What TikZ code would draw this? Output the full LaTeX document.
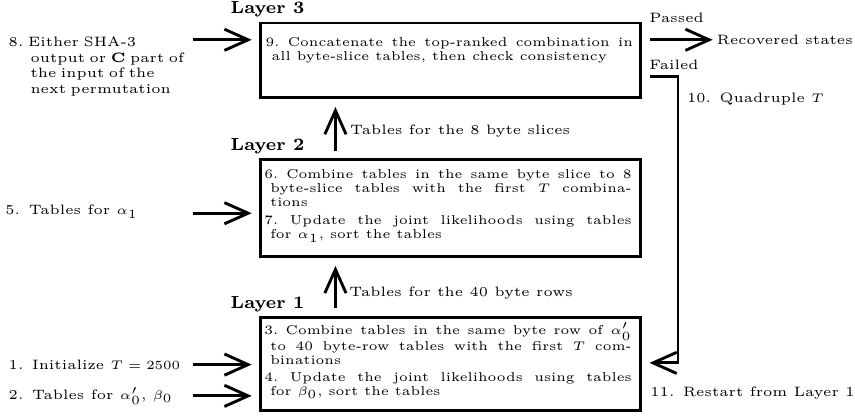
\documentclass[tikz,border=0pt]{standalone}
\usepackage{amssymb}
\usepackage{amsmath}
\usetikzlibrary{positioning,arrows.meta}

\newcommand{\smalltxt}{\fontsize{5.45}{6.2}\selectfont\lineskiplimit=-4pt}
\newcommand{\boxtxt}{\fontsize{5.15}{5.6}\selectfont\lineskiplimit=-4pt}
\newcommand{\boxtxtloose}{\fontsize{5.15}{5.6}\selectfont\lineskiplimit=0pt\lineskip=0.3pt}
\tikzset{
	layerbox/.style={draw, line width=1.15pt, minimum width=5.34cm, inner sep=0pt},
	boxtext/.style={text width=5.17cm, align=justify, inner sep=0pt, font=\boxtxt},
	sidetext/.style={inner sep=0pt, font=\smalltxt, anchor=west},
	layerlabel/.style={inner sep=0pt, font=\scriptsize\bfseries},
	flow/.style={line width=1.15pt, shorten >=3.1pt, -{Straight Barb[length=9.5pt,width=8.5pt,line width=1.15pt]}},
}
\newcommand{\stepitem}[3][2.4pt]{\par\noindent\hangindent=#1\hangafter=1 #2.~#3\par}

\begin{document}
\begin{tikzpicture}
	\useasboundingbox (0,0) rectangle (12.03,5.85);

	%layer boxes
	\node[layerbox, minimum height=1.054cm] (l3) at (6.34,5.00) {};
	\node[layerbox, minimum height=1.364cm] (l2) at (6.34,2.92) {};
	\node[layerbox, minimum height=1.31cm] (l1) at (6.34,0.73) {};

	%layer titles
	\node[layerlabel, above=1.5pt of l3.north west, xshift=0.116cm] (t3) {Layer 3};
	\node[layerlabel, above=1.5pt of l2.north west, xshift=0.116cm] (t2) {Layer 2};
	\node[layerlabel, above=1.5pt of l1.north west, xshift=0.116cm] (t1) {Layer 1};

	%box texts
	\node[boxtext, below right=0.15cm and 0.08cm of l3.north west] (s9)
		{\stepitem{9}{Concatenate the top-ranked combination in\linebreak all byte-slice tables, then check consistency}};
	\node[boxtext, below right=0.078cm and 0.062cm of l2.north west] (s67)
		{\stepitem{6}{Combine tables in the same byte slice to 8\linebreak byte-slice tables with the first $T$ combina-\linebreak tions}\vspace{1.6pt}
		 \stepitem{7}{Update the joint likelihoods using tables\linebreak for $\alpha_1$, sort the tables}};
	\node[boxtext, font=\boxtxtloose, below right=0.062cm and 0.062cm of l1.north west] (s34)
		{\stepitem{3}{Combine tables in the same byte row of $\alpha'_0$\linebreak to 40 byte-row tables with the first $T$ com-\linebreak binations}\vspace{1.2pt}
		 \stepitem{4}{Update the joint likelihoods using tables\linebreak for $\beta_0$, sort the tables}};

	%inputs on the left
	\node[sidetext, anchor=north west, text width=2.64cm] (in8) at (0.116,5.42)
		{\stepitem[1.6em]{8}{Either SHA-3\hfil\break output or \textbf{C} part of\hfil\break the input of the\hfil\break next permutation}};
	\node[sidetext] (in5) at (0.07,2.87) {5. Tables for $\alpha_1$};
	\node[sidetext] (in1) at (0.116,0.72) {1. Initialize $T=2500$};
	\node[sidetext] (in2) at (0.116,0.28) {2. Tables for $\alpha'_0$, $\beta_0$};

	\coordinate (a8) at (2.71,5.29);
	\coordinate (a5) at (2.71,2.85);
	\coordinate (a1) at (2.71,0.72);
	\coordinate (a2) at (2.71,0.28);
	\draw[flow] (a8) -- (a8 -| l3.west);
	\draw[flow] (a5) -- (a5 -| l2.west);
	\draw[flow] (a1) -- (a1 -| l1.west);
	\draw[flow] (a2) -- (a2 -| l1.west);

	%between layers
	\coordinate (up2) at ([xshift=1.07cm]l2.north west);
	\coordinate (up1) at ([xshift=1.07cm]l1.north west);
	\draw[flow, shorten <=3.1pt] (up2) -- (up2 |- l3.south);
	\draw[flow, shorten <=3.1pt] (up1) -- (up1 |- l2.south);
	\node[sidetext] (slices) at (4.92,4.00) {Tables for the 8 byte slices};
	\node[sidetext] (rows) at (4.91,1.73) {Tables for the 40 byte rows};

	%outcome of the check
	\node[sidetext] (rec) at (10.08,5.29) {Recovered states};
	\draw[flow, shorten <=3.1pt, shorten >=1.5pt] (l3.east |- rec) -- (rec.west);
	\node[sidetext] (passed) at (9.13,5.60) {Passed};
	\node[sidetext] (failed) at (9.13,4.94) {Failed};

	\coordinate (turn) at (9.54,4.77);
	\coordinate (back) at (9.54,0.744);
	\draw[flow, shorten <=3.1pt] (turn -| l3.east) -- (turn) -- (back) -- (back -| l1.east);
	\node[sidetext] (quad) at (9.66,4.45) {10. Quadruple $T$};
	\node[sidetext] (restart) at (9.145,0.326) {11. Restart from Layer 1};
\end{tikzpicture}
\end{document}
